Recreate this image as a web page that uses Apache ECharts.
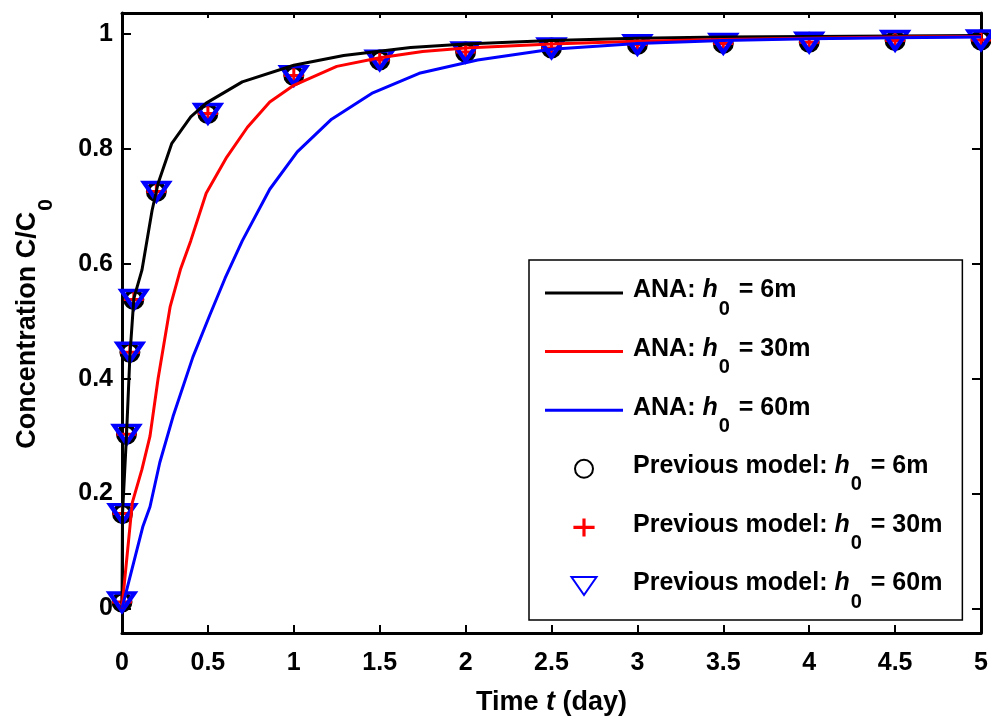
<!DOCTYPE html>
<html>
<head>
<meta charset="utf-8">
<script src="https://cdn.jsdelivr.net/npm/echarts@6/dist/echarts.min.js"></script>
<style>
html, body { margin: 0; padding: 0; background: #fff; }
#container { width: 991px; height: 722px; }
</style>
</head>
<body>
<div id="container"></div>
<script>
// tick labels
var yTicks = [0, 0.2, 0.4, 0.6, 0.8, 1];

// ANA curves (time in day, C/C0)
var tAna6 = [0, 0.003, 0.026, 0.046, 0.069, 0.116, 0.175, 0.21, 0.29, 0.4, 0.49, 0.7, 1, 1.29, 1.68, 2, 2.5, 3, 3.5, 4, 4.5, 5];
var cAna6 = [0, 0.165, 0.30, 0.44, 0.54, 0.589, 0.693, 0.74, 0.81, 0.856, 0.88, 0.917, 0.946, 0.963, 0.977, 0.983, 0.989, 0.993, 0.995, 0.996, 0.997, 0.998];

var tAna30 = [0, 0.006, 0.06, 0.116, 0.163, 0.21, 0.28, 0.34, 0.4, 0.49, 0.61, 0.73, 0.86, 1, 1.25, 1.5, 1.75, 2, 2.5, 3, 3.5, 4, 4.5, 5];
var cAna30 = [0, 0.02, 0.184, 0.242, 0.30, 0.40, 0.525, 0.59, 0.64, 0.723, 0.786, 0.838, 0.882, 0.911, 0.944, 0.959, 0.970, 0.976, 0.983, 0.988, 0.991, 0.993, 0.995, 0.996];

var tAna60 = [0, 0.017, 0.122, 0.163, 0.22, 0.297, 0.413, 0.51, 0.6, 0.7, 0.86, 1.02, 1.22, 1.46, 1.73, 2.07, 2.5, 3, 3.5, 4, 4.5, 5];
var cAna60 = [0, 0.02, 0.143, 0.177, 0.254, 0.334, 0.438, 0.51, 0.575, 0.64, 0.73, 0.795, 0.852, 0.898, 0.932, 0.955, 0.974, 0.984, 0.989, 0.992, 0.994, 0.995];

// previous model points
var tPrev = [0, 0.003, 0.026, 0.046, 0.069, 0.2, 0.5, 1, 1.5, 2, 2.5, 3, 3.5, 4, 4.5, 5];
var cPrev6 = [0.011, 0.165, 0.303, 0.446, 0.538, 0.726, 0.862, 0.928, 0.955, 0.969, 0.976, 0.982, 0.984, 0.986, 0.989, 0.990];
var cPrev30 = [0.011, 0.165, 0.303, 0.446, 0.538, 0.726, 0.862, 0.928, 0.955, 0.969, 0.976, 0.982, 0.984, 0.986, 0.989, 0.990];
var cPrev60 = [0.011, 0.165, 0.303, 0.446, 0.538, 0.726, 0.862, 0.928, 0.955, 0.969, 0.976, 0.982, 0.984, 0.986, 0.989, 0.990];

var FONT = "'Liberation Sans', Arial, sans-serif";

function pairs(t, c) {
    var out = [];
    for (var i = 0; i < t.length; i++) out.push([t[i], c[i]]);
    return out;
}

// legend text: 25px with dropped subscript
var legendRich = {
    b: { fontFamily: FONT, fontWeight: 'bold', fontSize: 25, color: '#000', lineHeight: 30, verticalAlign: 'top' },
    i: { fontFamily: FONT, fontWeight: 'bold', fontStyle: 'italic', fontSize: 25, color: '#000', lineHeight: 30, verticalAlign: 'top' },
    s: { fontFamily: FONT, fontWeight: 'bold', fontSize: 20, color: '#000', lineHeight: 22, padding: [21, 2, 0, 1], verticalAlign: 'top' }
};

// axis names: 27px
var nameRich = {
    b: { fontFamily: FONT, fontWeight: 'bold', fontSize: 27, color: '#000', lineHeight: 30, verticalAlign: 'top' },
    i: { fontFamily: FONT, fontWeight: 'bold', fontStyle: 'italic', fontSize: 27, color: '#000', lineHeight: 30, verticalAlign: 'top' },
    s: { fontFamily: FONT, fontWeight: 'bold', fontSize: 21, color: '#000', lineHeight: 22, padding: [22, 2, 0, 1], verticalAlign: 'top' }
};

var labelStyle = { color: '#000', fontFamily: FONT, fontWeight: 'bold', fontSize: 25 };
var lineAxis = { onZero: false, lineStyle: { color: '#000', width: 3 } };
var lineIcon = 'path://M0,0 L78,0 L78,3 L0,3 Z';

var dom = document.getElementById('container');
var myChart = echarts.init(dom);

var option = {
    animation: false,
    backgroundColor: '#fff',
    grid: { left: 122, right: 10, top: 13, bottom: 89 },
    legend: {
        orient: 'vertical',
        left: 529,
        top: 260,
        padding: [18, 20, 8, 16],
        itemGap: 17.6,
        itemWidth: 78,
        itemHeight: 18,
        selectedMode: false,
        backgroundColor: '#fff',
        borderColor: '#000',
        borderWidth: 1.5,
        textStyle: { padding: [0, 0, 0, 5], rich: legendRich },
        formatter: function (name) {
            var p = name.split('h0');
            return '{b|' + p[0] + '}{i|h}{s|0}{b|' + p[1] + '}';
        },
        data: [
            { name: 'ANA: h0 = 6m', icon: lineIcon },
            { name: 'ANA: h0 = 30m', icon: lineIcon },
            { name: 'ANA: h0 = 60m', icon: lineIcon },
            'Previous model: h0 = 6m',
            'Previous model: h0 = 30m',
            'Previous model: h0 = 60m'
        ]
    },
    xAxis: [
        {
            type: 'value', min: 0, max: 5, interval: 0.5, position: 'bottom',
            axisLine: lineAxis,
            axisTick: { inside: true, length: 8, lineStyle: { color: '#000', width: 2 } },
            axisLabel: Object.assign({ margin: 18 }, labelStyle),
            splitLine: { show: false },
            name: '{b|Time }{i|t}{b| (day)}',
            nameLocation: 'middle',
            nameGap: 56,
            nameTextStyle: { rich: nameRich }
        },
        {
            type: 'value', min: 0, max: 5, interval: 0.5, position: 'top',
            axisLine: lineAxis,
            axisTick: { inside: true, length: 5, lineStyle: { color: '#000', width: 2 } },
            axisLabel: { show: false },
            splitLine: { show: false }
        }
    ],
    yAxis: [
        {
            type: 'value', min: -0.043, max: 1.037, position: 'left',
            axisLine: lineAxis,
            axisTick: { inside: true, length: 9, customValues: yTicks, lineStyle: { color: '#000', width: 2 } },
            axisLabel: Object.assign({ margin: 9, customValues: yTicks }, labelStyle),
            splitLine: { show: false },
            name: '{b|Concentration C/C}{s|0}',
            nameLocation: 'middle',
            nameRotate: 90,
            nameGap: 78,
            nameTextStyle: { rich: nameRich }
        },
        {
            type: 'value', min: -0.043, max: 1.037, position: 'right',
            axisLine: lineAxis,
            axisTick: { inside: true, length: 9, customValues: yTicks, lineStyle: { color: '#000', width: 2 } },
            axisLabel: { show: false },
            splitLine: { show: false }
        }
    ],
    series: [
        {
            name: 'ANA: h0 = 6m', type: 'line', symbol: 'none', data: pairs(tAna6, cAna6),
            lineStyle: { color: '#000', width: 3 }, itemStyle: { color: '#000' }
        },
        {
            name: 'ANA: h0 = 30m', type: 'line', symbol: 'none', data: pairs(tAna30, cAna30),
            lineStyle: { color: '#ff0000', width: 3 }, itemStyle: { color: '#ff0000' }
        },
        {
            name: 'ANA: h0 = 60m', type: 'line', symbol: 'none', data: pairs(tAna60, cAna60),
            lineStyle: { color: '#0000ff', width: 3 }, itemStyle: { color: '#0000ff' }
        },
        {
            name: 'Previous model: h0 = 6m', type: 'scatter', symbol: 'circle', symbolSize: 17,
            data: pairs(tPrev, cPrev6),
            itemStyle: { color: 'rgba(0,0,0,0)', borderColor: '#000', borderWidth: 4, opacity: 1 }
        },
        {
            name: 'Previous model: h0 = 30m', type: 'scatter',
            symbol: 'path://M0,7 L20,7 L20,10 L0,10 Z M8.5,0 L11.5,0 L11.5,17 L8.5,17 Z',
            symbolSize: [20, 17],
            data: pairs(tPrev, cPrev30),
            itemStyle: { color: '#ff0000', opacity: 1 }
        },
        {
            name: 'Previous model: h0 = 60m', type: 'scatter',
            symbol: 'path://M0,0 L25,0 L12.5,18 Z',
            symbolSize: [25, 18],
            data: pairs(tPrev, cPrev60),
            itemStyle: { color: 'rgba(0,0,0,0)', borderColor: '#0000ff', borderWidth: 4, opacity: 1 }
        }
    ]
};

myChart.setOption(option);
</script>
</body>
</html>
